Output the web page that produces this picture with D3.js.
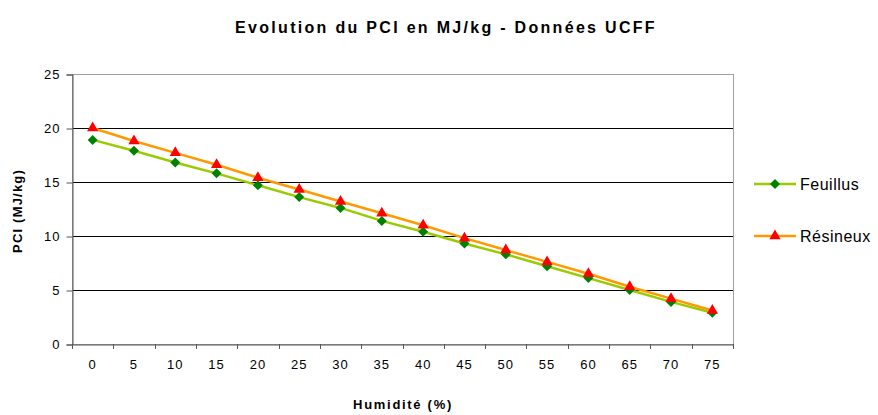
<!DOCTYPE html>
<html><head><meta charset="utf-8">
<script src="https://cdn.jsdelivr.net/npm/d3@7"></script>
<style>body{margin:0;background:#fff}svg{display:block}text{font-family:"Liberation Sans",Arial,sans-serif}</style>
</head><body><svg id="c" width="878" height="415"></svg>
<script>
const categories = [0,5,10,15,20,25,30,35,40,45,50,55,60,65,70,75];
const feuillus = [18.9,17.9,16.8,15.8,14.7,13.6,12.6,11.4,10.4,9.3,8.3,7.2,6.1,5.0,3.9,2.9];
const resineux = [20.0,18.8,17.7,16.6,15.4,14.3,13.2,12.1,11.0,9.8,8.7,7.6,6.5,5.3,4.2,3.1];
const yTicks = [0,5,10,15,20,25];
const seriesNames = ["Feuillus","Résineux"];

const svg = d3.select("#c");
const L=72, R=733, T=74, B=344;
const x = d3.scaleBand().domain(categories).range([L,R]);
const y = d3.scaleLinear().domain([0,25]).range([B,T]);

// gridlines
svg.append("g").selectAll("line").data(yTicks.filter(d=>d>0&&d<25)).join("line")
  .attr("x1",L).attr("x2",R).attr("y1",d=>Math.round(y(d))+0.5).attr("y2",d=>Math.round(y(d))+0.5)
  .attr("stroke","#000").attr("stroke-width",1);
// plot border
svg.append("rect").attr("x",L+0.5).attr("y",T+0.5).attr("width",R-L).attr("height",B-T)
  .attr("fill","none").attr("stroke","#a0a0a0");

// axes
const yAxis = d3.axisLeft(y).tickValues(yTicks).tickSize(6).tickPadding(6);
const gy = svg.append("g").attr("transform",`translate(${L+0.5},0.5)`).call(yAxis);
const xAxis = d3.axisBottom(x).tickSize(0).tickPadding(15);
const gx = svg.append("g").attr("transform",`translate(0,${B+0.5})`).call(xAxis);
[gy,gx].forEach(g=>{g.select(".domain").attr("stroke","#555");g.selectAll("text").attr("font-size",13).attr("letter-spacing","1px").attr("fill","#000").attr("font-family","Liberation Sans, Arial, sans-serif");g.selectAll("line").attr("stroke","#555");});
// x ticks at category boundaries
svg.append("g").selectAll("line").data(categories.concat([null])).join("line")
  .attr("x1",(d,i)=>Math.round(L+i*x.bandwidth())+0.5).attr("x2",(d,i)=>Math.round(L+i*x.bandwidth())+0.5)
  .attr("y1",B).attr("y2",B+5).attr("stroke","#555");

const cx = d=>x(d)+x.bandwidth()/2;
const line = d3.line().x((d,i)=>cx(categories[i])).y(d=>y(d));
svg.append("path").datum(feuillus).attr("d",line).attr("fill","none").attr("stroke","#99CC00").attr("stroke-width",2.5);
svg.append("path").datum(resineux).attr("d",line).attr("fill","none").attr("stroke","#FF9900").attr("stroke-width",2.5);

const diamond = d3.symbol().type(d3.symbolSquare).size(50)();
const tri = d3.symbol().type(d3.symbolTriangle).size(55)();
svg.append("g").selectAll("path").data(feuillus).join("path").attr("d",diamond)
  .attr("transform",(d,i)=>`translate(${cx(categories[i])},${y(d)}) rotate(45)`).attr("fill","#008000");
svg.append("g").selectAll("path").data(resineux).join("path").attr("d",tri)
  .attr("transform",(d,i)=>`translate(${cx(categories[i])},${y(d)})`).attr("fill","#FF0000");

// titles
svg.append("text").attr("x",446).attr("y",33).attr("text-anchor","middle").attr("font-size",16).attr("letter-spacing","2.3px").attr("font-weight","bold").text("Evolution du PCI en MJ/kg - Données UCFF");
svg.append("text").attr("x",403).attr("y",409).attr("text-anchor","middle").attr("font-size",13).attr("letter-spacing","1.7px").attr("font-weight","bold").text("Humidité (%)");
svg.append("text").attr("transform","translate(22,211) rotate(-90)").attr("text-anchor","middle").attr("font-size",13).attr("letter-spacing","1.2px").attr("font-weight","bold").text("PCI (MJ/kg)");

// legend
const lg = svg.append("g");
const ly=[184,236], cols=["#99CC00","#FF9900"];
seriesNames.forEach((n,i)=>{
  lg.append("line").attr("x1",754).attr("x2",796).attr("y1",ly[i]).attr("y2",ly[i]).attr("stroke",cols[i]).attr("stroke-width",2.5);
  lg.append("path").attr("d",i===0?diamond:tri).attr("transform",`translate(775,${ly[i]})${i===0?" rotate(45)":""}`).attr("fill",i===0?"#008000":"#FF0000");
  lg.append("text").attr("x",800).attr("y",ly[i]+6).attr("font-size",16).attr("letter-spacing","0.5px").text(n);
});
</script></body></html>
